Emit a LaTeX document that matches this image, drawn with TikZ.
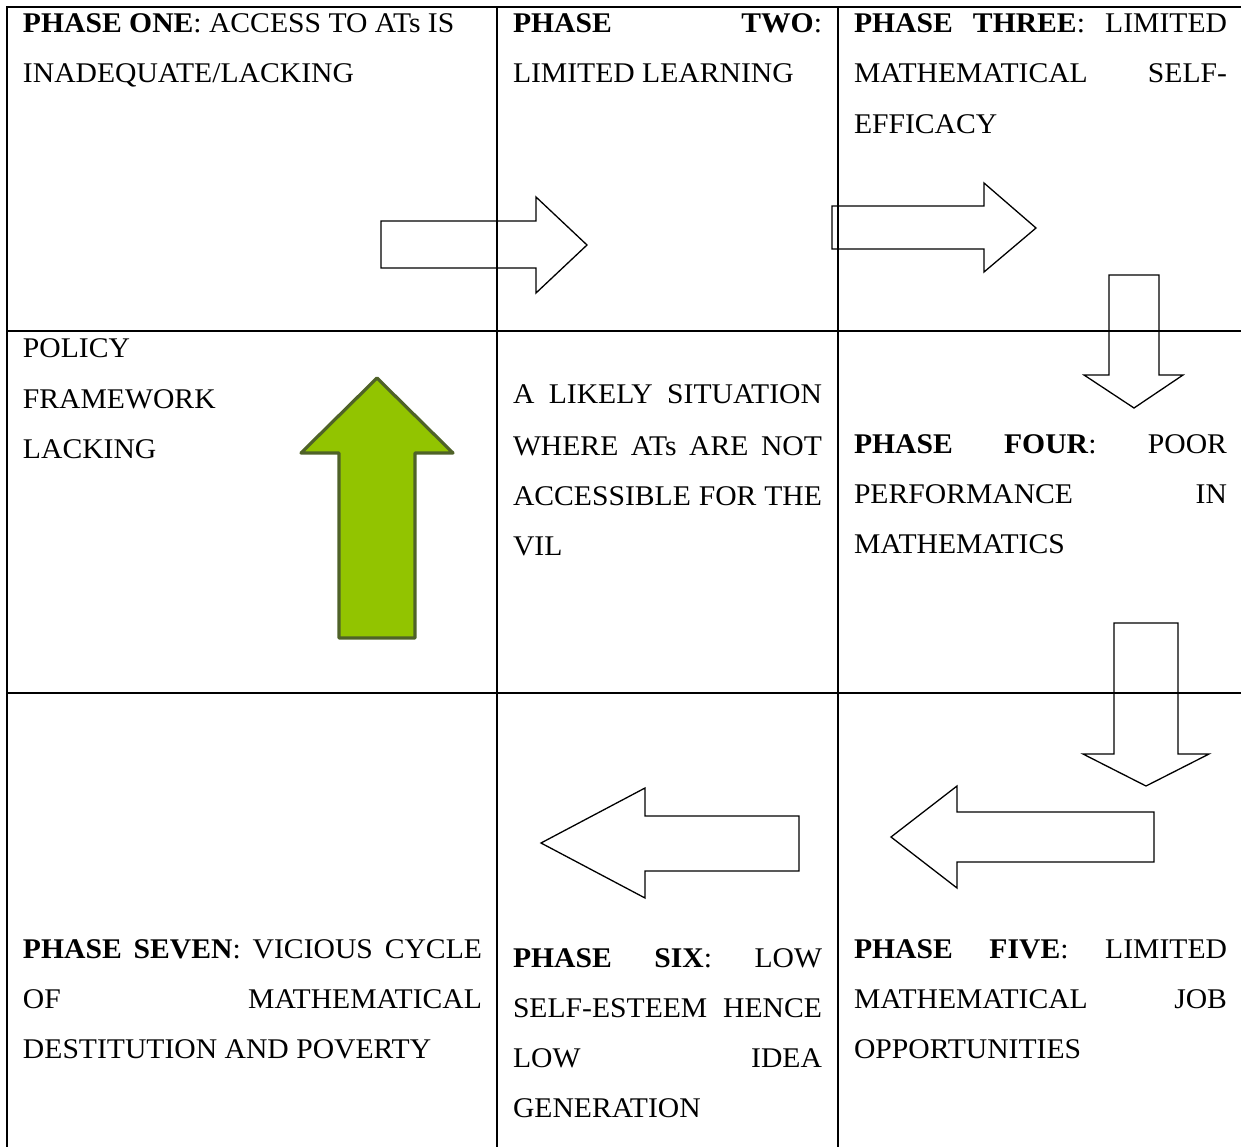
\documentclass[tikz,border=0pt]{standalone}
\usepackage{fontspec}
\setmainfont{Liberation Serif}[FakeStretch=1.04]
\definecolor{arrowgreen}{RGB}{146,196,0}
\definecolor{arrowolive}{RGB}{79,98,40}
\begin{document}
\begin{tikzpicture}[x=1pt,y=-1pt,
  gridline/.style={line width=2.4pt,black},
  blockarrow/.style={draw=black,line width=1.3pt,line join=miter},
  greenarrow/.style={draw=arrowolive,fill=arrowgreen,line width=3.2pt,line join=round},
  txt/.style={anchor=base west,inner sep=0pt,outer sep=0pt,font=\fontsize{28.5}{50}\selectfont}]
\useasboundingbox (0,0) rectangle (1241,1147);
% table grid
\draw[gridline] (7,1147) -- (7,7) -- (1241,7);
\draw[gridline] (497,7) -- (497,1147);
\draw[gridline] (838,7) -- (838,1147);
\draw[gridline] (7,331) -- (1241,331);
\draw[gridline] (7,693) -- (1241,693);
% block arrows (outlines)
\draw[blockarrow] (381,221) -- (536,221) -- (536,197) -- (587,245) -- (536,293) -- (536,268) -- (381,268) -- cycle;
\draw[blockarrow] (832,206) -- (984,206) -- (984,183) -- (1036,228) -- (984,272) -- (984,249) -- (832,249) -- cycle;
\draw[blockarrow] (1109,275) -- (1159,275) -- (1159,375) -- (1183,375) -- (1134,408) -- (1084,375) -- (1109,375) -- cycle;
\draw[blockarrow] (1114,623) -- (1178,623) -- (1178,754) -- (1209,754) -- (1146,786) -- (1083,754) -- (1114,754) -- cycle;
\draw[blockarrow] (1154,812) -- (957,812) -- (957,786) -- (891,837) -- (957,888) -- (957,862) -- (1154,862) -- cycle;
\draw[blockarrow] (799,816) -- (645,816) -- (645,788) -- (541,843) -- (645,898) -- (645,871) -- (799,871) -- cycle;
\draw[greenarrow] (377,378) -- (453,453) -- (415,453) -- (415,638) -- (339,638) -- (339,453) -- (301,453) -- cycle;
% row 1
\node[txt] (p1a) at (23,33) {\textbf{PHASE ONE}: ACCESS TO ATs IS};
\node[txt] (p1b) at (23,83) {INADEQUATE/LACKING};
\node[txt] (p2a) at (513,33) {\makebox[309pt][s]{\textbf{PHASE} \textbf{TWO}:}};
\node[txt] (p2b) at (513,83) {LIMITED LEARNING};
\node[txt] (p3a) at (854,33) {\makebox[373pt][s]{\textbf{PHASE} \textbf{THREE}: LIMITED}};
\node[txt] (p3b) at (854,83) {\makebox[373pt][s]{MATHEMATICAL SELF-}};
\node[txt] (p3c) at (854,134) {EFFICACY};
% row 2
\node[txt] (pola) at (23,357) {POLICY};
\node[txt] (polb) at (23,408) {FRAMEWORK};
\node[txt] (polc) at (23,458) {LACKING};
\node[txt] (sita) at (513,403) {\makebox[309pt][s]{A LIKELY SITUATION}};
\node[txt] (sitb) at (513,455) {\makebox[309pt][s]{WHERE ATs ARE NOT}};
\node[txt] (sitc) at (513,505) {\makebox[309pt][s]{ACCESSIBLE FOR THE}};
\node[txt] (sitd) at (513,555) {VIL};
\node[txt] (p4a) at (854,453) {\makebox[373pt][s]{\textbf{PHASE} \textbf{FOUR}: POOR}};
\node[txt] (p4b) at (854,503) {\makebox[373pt][s]{PERFORMANCE IN}};
\node[txt] (p4c) at (854,553) {MATHEMATICS};
% row 3
\node[txt] (p7a) at (23,958) {\makebox[459pt][s]{\textbf{PHASE} \textbf{SEVEN}: VICIOUS CYCLE}};
\node[txt] (p7b) at (23,1008) {\makebox[459pt][s]{OF MATHEMATICAL}};
\node[txt] (p7c) at (23,1058) {DESTITUTION AND POVERTY};
\node[txt] (p6a) at (513,967) {\makebox[309pt][s]{\textbf{PHASE} \textbf{SIX}: LOW}};
\node[txt] (p6b) at (513,1017) {\makebox[309pt][s]{SELF-ESTEEM HENCE}};
\node[txt] (p6c) at (513,1067) {\makebox[309pt][s]{LOW IDEA}};
\node[txt] (p6d) at (513,1117) {GENERATION};
\node[txt] (p5a) at (854,958) {\makebox[373pt][s]{\textbf{PHASE} \textbf{FIVE}: LIMITED}};
\node[txt] (p5b) at (854,1008) {\makebox[373pt][s]{MATHEMATICAL JOB}};
\node[txt] (p5c) at (854,1058) {OPPORTUNITIES};
\end{tikzpicture}
\end{document}
